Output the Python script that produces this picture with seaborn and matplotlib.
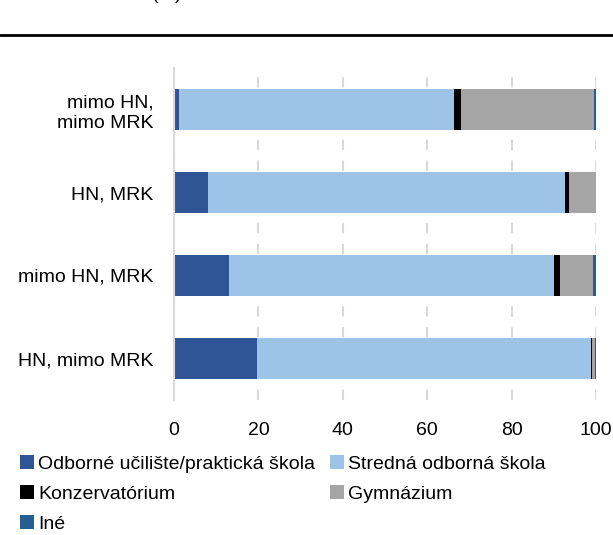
import matplotlib
matplotlib.use("Agg")
import matplotlib.pyplot as plt
from matplotlib.lines import Line2D
from matplotlib.patches import Patch
import seaborn as sns
import pandas as pd
import numpy as np

categories = ["mimo HN,\nmimo MRK", "HN, MRK", "mimo HN, MRK", "HN, mimo MRK"]
odborne = [1.2, 8.1, 13.1, 19.7]
stredna = [65.2, 84.6, 77.0, 79.2]
konzerv = [1.6, 1.0, 1.4, 0.2]
gymnazium = [31.5, 6.3, 7.9, 0.6]
ine = [0.5, 0.0, 0.6, 0.3]

series_names = ["Odborné učilište/praktická škola", "Stredná odborná škola",
                "Konzervatórium", "Gymnázium", "Iné"]
colors = ["#2F5597", "#9DC3E6", "#000000", "#A5A5A5", "#255E91"]
xticks = [0, 20, 40, 60, 80, 100]

sns.set_style("white")
plt.rcParams["font.family"] = ["Liberation Sans", "DejaVu Sans"]
plt.rcParams["text.color"] = "black"
plt.rcParams["xtick.color"] = "black"
plt.rcParams["ytick.color"] = "black"
plt.rcParams["axes.labelcolor"] = "black"

vals = np.array([odborne, stredna, konzerv, gymnazium, ine])
cums = np.cumsum(vals, axis=0)

fig = plt.figure(figsize=(6.13, 5.35), dpi=100)
W, H = 613, 535
ax = fig.add_axes([174 / W, 1 - 400 / H, (596 - 174) / W, (400 - 68) / H])

for i in range(4, -1, -1):
    d = pd.DataFrame({"cat": categories, "v": cums[i]})
    sns.barplot(data=d, x="v", y="cat", color=colors[i], width=0.5,
                saturation=1, orient="h", ax=ax, linewidth=0, order=categories)

ax.set_xlim(0, 100)
ax.set_ylim(3.5, -0.5)
ax.set_xticks(xticks)
ax.set_xticklabels([str(t) for t in xticks], fontsize=14)
ax.tick_params(axis="y", labelsize=14, length=0, pad=15, labelcolor="black")
ax.tick_params(axis="x", length=0, pad=16, labelcolor="black")
for lab in ax.get_yticklabels():
    lab.set_horizontalalignment("right")
    lab.set_multialignment("right")
    lab.set_linespacing(1.3)
ax.set_xlabel("")
ax.set_ylabel("")
ax.set_axisbelow(True)
ax.xaxis.grid(True, color="#D9D9D9", linestyle=(0, (5, 5)), linewidth=1.5)
ax.yaxis.grid(False)
for s in ["top", "right", "bottom"]:
    ax.spines[s].set_visible(False)
ax.spines["left"].set_color("#D9D9D9")
ax.spines["left"].set_linewidth(1.5)

# top rule and (cut) title
fig.add_artist(Line2D([0, 1], [1 - 35 / H] * 2, color="black", lw=2,
                      transform=fig.transFigure))
fig.text(152 / W, 1 + 1 / H, "(%)", fontsize=14, va="baseline", ha="left",
         color="black")

order = [0, 2, 4, 1, 3]
handles = [Patch(facecolor=colors[i], edgecolor="none") for i in order]
labels = [series_names[i] for i in order]
leg = fig.legend(handles, labels, ncol=2, loc="upper left",
                 bbox_to_anchor=(20 / W, 1 - 455 / H), frameon=False, fontsize=14,
                 handlelength=0.72, handleheight=0.72, handletextpad=0.2,
                 columnspacing=0.8, labelspacing=0.64, borderpad=0, borderaxespad=0)
for t in leg.get_texts():
    t.set_color("black")

fig.savefig("out.png", dpi=100)
